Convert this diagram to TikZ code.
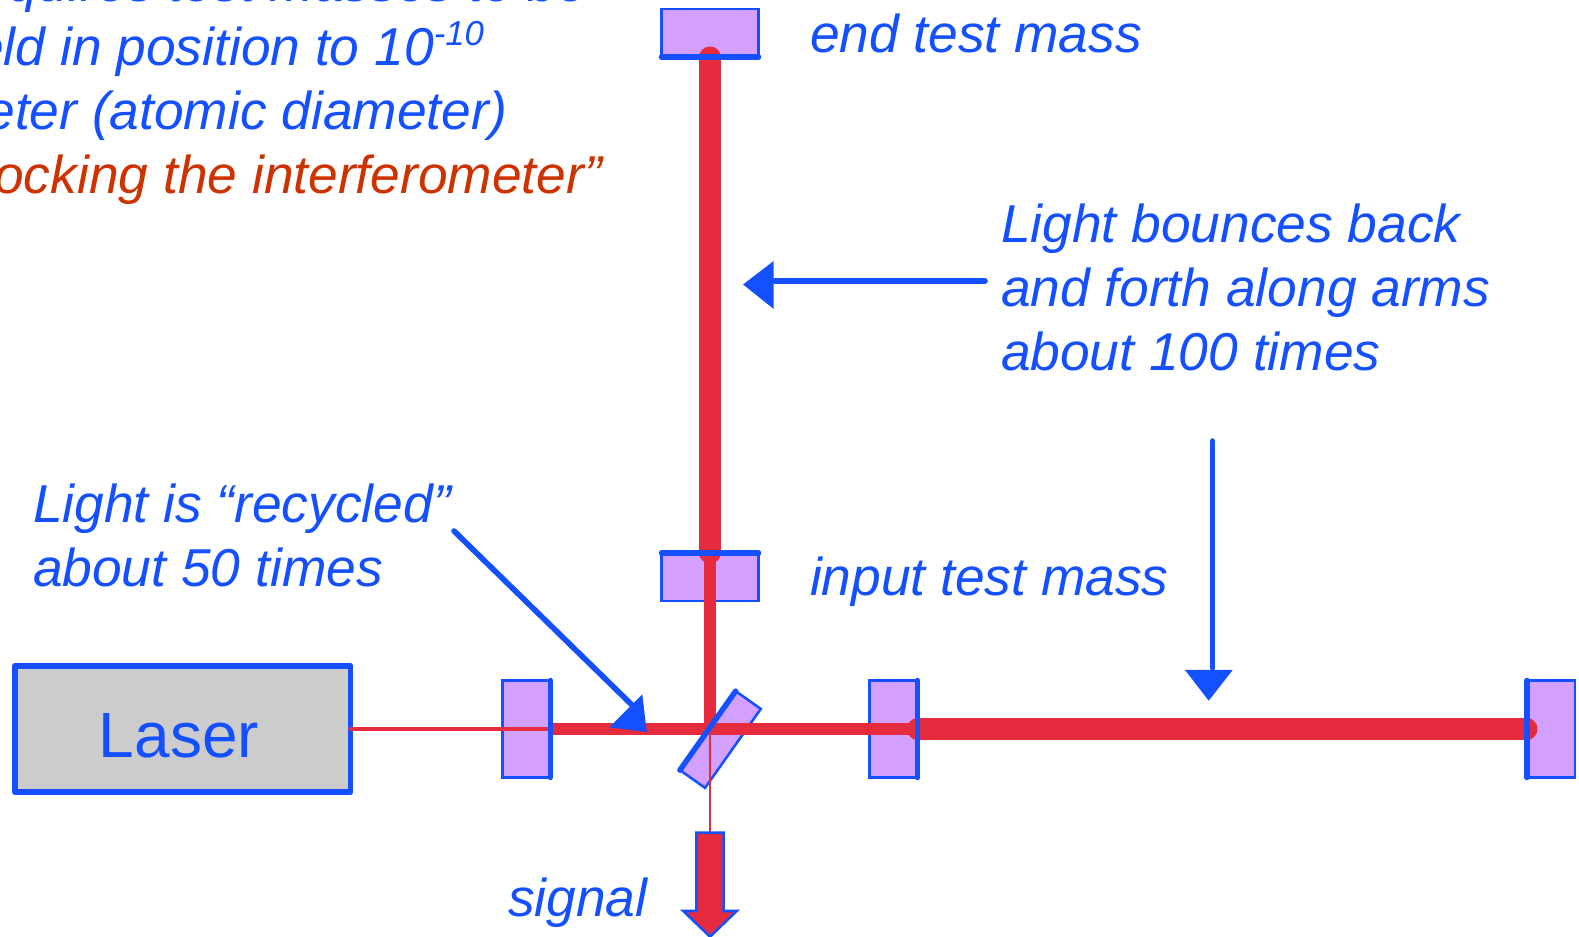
\documentclass[tikz,border=0pt]{standalone}
\usepackage{fontspec}
\setmainfont{Liberation Sans}
\definecolor{lblue}{HTML}{1450FF}
\definecolor{lred}{HTML}{E62B3F}
\definecolor{lpurple}{HTML}{D4A0FF}
\definecolor{lorange}{HTML}{CC3300}
\definecolor{lgray}{HTML}{CCCCCC}
\tikzset{
  x=0.75pt,y=-0.75pt,
  masse/.style={draw=lblue,fill=lpurple,line width=1.9pt,inner sep=0,outer sep=0,shape=rectangle},
  hmass/.style={masse,minimum width=72.75pt,minimum height=36pt},
  vmass/.style={masse,minimum width=36pt,minimum height=72.75pt},
  coating/.style={draw=lblue,line width=4.1pt,line cap=round},
  thick beam/.style={draw=lred,line width=15.8pt,line cap=round},
  mid beam/.style={draw=lred,line width=8.6pt},
  thin beam/.style={draw=lred,line width=3pt,line cap=round},
  hair beam/.style={draw=lred,line width=1.2pt},
  callout/.style={draw=lblue,line width=4.2pt,line cap=round},
  callhead/.style={fill=lblue,draw=none},
  note/.style={anchor=base west,inner sep=0,outer sep=0,text=lblue,font=\fontsize{40}{48}\selectfont\itshape},
  noteend/.style={note,anchor=base east},
}
\begin{document}
\begin{tikzpicture}
\path[use as bounding box,clip] (0,0) rectangle (1579,937);
% coordinates
\coordinate (bsc) at (710,729);
\coordinate (sigtop) at (710,832.7);
\coordinate (rs) at (454,531);
\coordinate (rt) at (632,705);
\coordinate (ls) at (985,281);
\coordinate (lt) at (775,281);
\coordinate (as) at (1212.5,441);
\coordinate (at) at (1212.5,668);
% masses
\node[hmass] (etm) at (710,33) {};
\node[hmass] (itm) at (710,577) {};
\node[vmass] (prm) at (526.5,729) {};
\node[vmass] (itmr) at (893.5,729) {};
\node[vmass] (etmr) at (1551,729) {};
\node[masse,minimum width=72.5pt,minimum height=23.1pt,rotate=54.8] (bs) at (720.35,739.5) {};
% laser
\node[draw=lblue,fill=lgray,line width=4.4pt,line join=round,inner sep=0,outer sep=0,minimum width=251.6pt,minimum height=95pt] (laser) at (182.75,729) {};
\node[anchor=base,inner sep=0,text=lblue,font=\fontsize{48}{58}\selectfont] (lasertext) at (179,757) {Laser};
% beams
\draw[thick beam] (etm.south) -- (itm.north);
\draw[thick beam] (itmr.east) -- (etmr.west);
\draw[mid beam] (itm.north) -- (bsc);
\draw[mid beam] (prm.east) -- (itmr.east);
\draw[thin beam] (laser.east |- bsc) -- (prm.east);
\draw[hair beam] (bsc) -- (sigtop);
% coatings
\draw[coating] (etm.south west) -- (etm.south east);
\draw[coating] (itm.north west) -- (itm.north east);
\draw[coating] (prm.north east) -- (prm.south east);
\draw[coating] (itmr.north east) -- (itmr.south east);
\draw[coating] (etmr.north west) -- (etmr.south west);
\draw[coating] (bs.north west) -- (bs.north east);
% signal arrow
\draw[draw=lblue,fill=lred,line width=1.9pt,line join=miter] (696.3,832.7) -- (723.7,832.7) -- (723.7,911) -- (736.7,911) -- (710,936.7) -- (683.3,911) -- (696.3,911) -- cycle;
% callouts
\draw[callout] (rs) -- (rt);
\fill[callhead] (646.7,732) -- (642.3,694.3) -- (609.3,727.3) -- cycle;
\draw[callout] (ls) -- (lt);
\fill[callhead] (743,284.5) -- (773.7,261) -- (773.7,309) -- cycle;
\draw[callout] (as) -- (at);
\fill[callhead] (1208.7,700.7) -- (1185,670) -- (1232.7,670) -- cycle;
% text
\node[note] (t1) at (810,52.5) {end test mass};
\node[note] (t2) at (810,596) {input test mass};
\node[note] (t3) at (1001,243) {Light bounces back};
\node[note] (t4) at (1001,307) {and forth along arms};
\node[note] (t5) at (1001,371) {about 100 times};
\node[note] (t6) at (33,523) {Light is “recycled”};
\node[note] (t7) at (33,587) {about 50 times};
\node[note] (t8) at (508,916) {signal};
\node[noteend] (t9) at (587,2) {Requires test masses to be};
\node[noteend] (t10) at (484,65.5) {held in position to 10\raisebox{15pt}{\fontsize{26}{30}\selectfont -10}};
\node[noteend] (t11) at (507,129.5) {meter (atomic diameter)};
\node[noteend,text=lorange] (t12) at (602,193.5) {“Locking the interferometer”};
\end{tikzpicture}
\end{document}
